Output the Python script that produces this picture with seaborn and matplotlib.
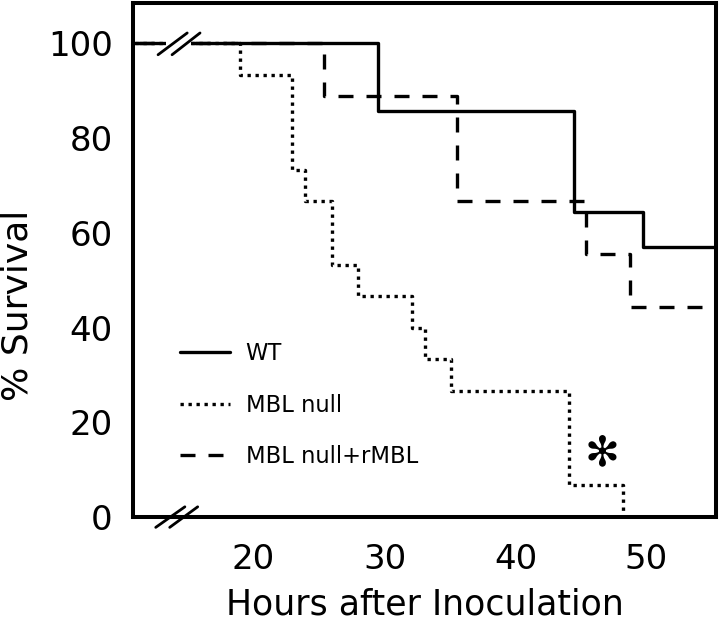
import numpy as np
import pandas as pd
import matplotlib
matplotlib.use("Agg")
import matplotlib.pyplot as plt
import seaborn as sns
from matplotlib.transforms import blended_transform_factory

# ---- data ----
groups = ["WT", "MBL null", "MBL null+rMBL"]
wt_hours = [0, 29.5, 44.5, 49.7, 56]
wt_surv = [100, 85.7, 64.3, 57.1, 57.1]
null_hours = [0, 19.0, 22.9, 23.9, 26.0, 28.0, 32.1, 33.1, 35.1, 44.1, 48.2]
null_surv = [100, 93.3, 73.3, 66.7, 53.3, 46.7, 40.0, 33.3, 26.7, 6.7, 0]
rmbl_hours = [0, 25.4, 35.5, 45.4, 48.7, 56]
rmbl_surv = [100, 88.9, 66.7, 55.6, 44.4, 44.4]
x_ticks = [20, 30, 40, 50]
y_ticks = [0, 20, 40, 60, 80, 100]
star_pos = (46.64, 13.5)

df = pd.concat([
    pd.DataFrame({"hours": wt_hours, "survival": wt_surv, "group": groups[0]}),
    pd.DataFrame({"hours": null_hours, "survival": null_surv, "group": groups[1]}),
    pd.DataFrame({"hours": rmbl_hours, "survival": rmbl_surv, "group": groups[2]}),
], ignore_index=True)

sns.set_style("white")
plt.rcParams["font.family"] = ["DejaVu Sans"]
plt.rcParams["text.color"] = "black"
plt.rcParams["axes.labelcolor"] = "black"
plt.rcParams["xtick.color"] = "black"
plt.rcParams["ytick.color"] = "black"

fig = plt.figure(figsize=(7.2, 6.23), dpi=100)
ax = fig.add_axes([0.1847, 0.170, 0.8097, 0.825])

lw = 2.4
dashes = {"WT": "", "MBL null": (1, 1.4), "MBL null+rMBL": (4.5, 3.9)}
sns.lineplot(data=df, x="hours", y="survival", style="group", style_order=groups,
             dashes=dashes, color="black", drawstyle="steps-post", estimator=None,
             linewidth=lw, ax=ax, legend=True)

ax.set_xlim(10.8, 55.3)
ax.set_ylim(0, 108.5)
ax.set_xticks(x_ticks)
ax.set_yticks(y_ticks)
ax.tick_params(axis="both", direction="out", length=8.6, width=2.6, labelsize=24.5,
               color="black", labelcolor="black")
ax.tick_params(axis="y", pad=6)
ax.tick_params(axis="x", pad=10)
for sp in ax.spines.values():
    sp.set_visible(True)
    sp.set_color("black")
    sp.set_linewidth(2.9)
ax.set_xlabel("Hours after Inoculation", fontsize=25, labelpad=8)
ax.set_ylabel("% Survival", fontsize=26, va="center")
ax.yaxis.set_label_coords(-0.198, 0.412)

leg = ax.get_legend()
handles = leg.legend_handles
labels = [t.get_text() for t in leg.get_texts()]
for h in handles:
    h.set_linewidth(lw)
    h.set_color("black")
ax.legend(handles, labels, loc="center left", bbox_to_anchor=(0.0806, 0.218),
          frameon=False, fontsize=16.3, handlelength=2.2, handletextpad=0.7,
          labelspacing=1.25, borderpad=0, borderaxespad=0)

ax.text(star_pos[0], star_pos[1], "\u273B", fontsize=30, ha="center", va="center")

# axis-break marks
blend = blended_transform_factory(ax.transAxes, ax.transData)
ax.plot([0.056, 0.100], [100, 100], color="white", lw=4.5, transform=blend,
        clip_on=False, zorder=5, solid_capstyle="butt")
for xa, xb in [(0.043, 0.093), (0.067, 0.115)]:
    ax.plot([xa, xb], [97.6, 102.2], color="black", lw=2.0, transform=blend,
            clip_on=False, zorder=6)
    ax.plot([xa - 0.004, xb - 0.004], [-0.02, 0.02], color="black", lw=2.0,
            transform=ax.transAxes, clip_on=False, zorder=6)

fig.savefig("out.png", dpi=100)
